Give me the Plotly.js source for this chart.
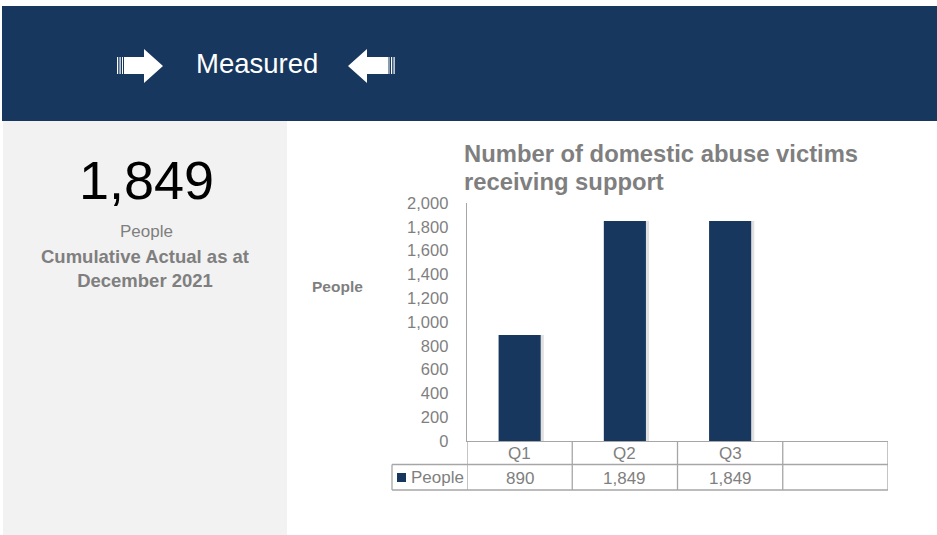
<!DOCTYPE html>
<html>
<head>
<meta charset="utf-8">
<script src="https://cdn.plot.ly/plotly-3.0.1.min.js"></script>
<style>
html,body{margin:0;padding:0;background:#fff;}
#chart{width:937px;height:535px;}
</style>
</head>
<body>
<div id="chart"></div>
<script>
// ---- data ----
const categories = ['Q1', 'Q2', 'Q3'];
const people = [890, 1849, 1849];
const seriesName = 'People';
const yTicks = [0, 200, 400, 600, 800, 1000, 1200, 1400, 1600, 1800, 2000];
const chartTitleLines = ['Number of domestic abuse victims', 'receiving support'];
const headerText = 'Measured';
const kpiUnit = 'People';
const kpiCaption = 'Cumulative Actual as at<br>December 2021';

// ---- layout helpers (pixel -> paper) ----
const W = 937, H = 535;
const L = 467, R = 888, T = 203, B = 441;
const px = x => (x - L) / (R - L);
const py = y => (B - y) / (B - T);
const navy = '#17375E';
const grey = '#7f7f7f';
const border = '#a6a6a6';
const FONT = 'Liberation Sans, Arial, sans-serif';
const nCols = categories.length + 1;
const fmt = v => v.toLocaleString('en-US');

const shapes = [];
const annotations = [];

// header band
shapes.push({type:'rect', xref:'paper', yref:'paper', x0:px(2), x1:px(937), y0:py(121), y1:py(6), fillcolor:navy, line:{width:0}, layer:'below'});
// left grey panel
shapes.push({type:'rect', xref:'paper', yref:'paper', x0:px(3), x1:px(287), y0:py(535), y1:py(121), fillcolor:'#f2f2f2', line:{width:0}, layer:'below'});

// arrows
function pathFrom(pts){ return 'M' + pts.map(p => px(p[0]) + ',' + py(p[1])).join(' L') + ' Z'; }
shapes.push({type:'path', xref:'paper', yref:'paper', path:pathFrom([[124,57],[144,57],[144,49],[163,66],[144,83],[144,74],[124,74]]), fillcolor:'#fff', line:{width:0}});
[[117,118.2],[119.5,120.7],[122,123]].forEach(s => shapes.push({type:'rect', xref:'paper', yref:'paper', x0:px(s[0]), x1:px(s[1]), y0:py(74), y1:py(57), fillcolor:'#fff', line:{width:0}}));
shapes.push({type:'path', xref:'paper', yref:'paper', path:pathFrom([[388,57],[367,57],[367,49],[348,66],[367,83],[367,74],[388,74]]), fillcolor:'#fff', line:{width:0}});
[[388.5,389.5],[391,392.2],[393.5,394.7]].forEach(s => shapes.push({type:'rect', xref:'paper', yref:'paper', x0:px(s[0]), x1:px(s[1]), y0:py(74), y1:py(57), fillcolor:'#fff', line:{width:0}}));

// data table grid
const lineStyle = {color:border, width:1.3};
shapes.push({type:'line', xref:'paper', yref:'paper', x0:px(392), x1:1, y0:py(464.5), y1:py(464.5), line:lineStyle});
shapes.push({type:'line', xref:'paper', yref:'paper', x0:px(392), x1:1, y0:py(490), y1:py(490), line:lineStyle});
shapes.push({type:'line', xref:'paper', yref:'paper', x0:px(392), x1:px(392), y0:py(464.5), y1:py(490), line:lineStyle});
for (let i = 0; i <= nCols; i++) {
  shapes.push({type:'line', xref:'x', yref:'paper', x0:i - 0.5, x1:i - 0.5, y0:0, y1:py(490), line:lineStyle});
}
// legend key in table
shapes.push({type:'rect', xref:'paper', yref:'paper', x0:px(397), x1:px(406), y0:py(482), y1:py(473), fillcolor:navy, line:{width:0}});
annotations.push({xref:'paper', yref:'paper', x:px(409), y:py(477.5), text:seriesName, showarrow:false, xanchor:'left', yanchor:'middle', font:{family:FONT, size:17, color:grey}});

categories.forEach((c, i) => {
  annotations.push({xref:'x', yref:'paper', x:i, y:py(453), text:c, showarrow:false, xanchor:'center', yanchor:'middle', font:{family:FONT, size:17, color:grey}});
  annotations.push({xref:'x', yref:'paper', x:i, y:py(478), text:fmt(people[i]), showarrow:false, xanchor:'center', yanchor:'middle', font:{family:FONT, size:17, color:grey}});
});

// titles & texts
chartTitleLines.forEach((t, k) => {
  annotations.push({xref:'paper', yref:'paper', x:px(462), y:py(153 + 28 * k), text:'<b>' + t + '</b>', showarrow:false, xanchor:'left', yanchor:'middle', align:'left', font:{family:FONT, size:23.8, color:grey}});
});
annotations.push({xref:'paper', yref:'paper', x:px(337.5), y:py(286), text:'<b>' + seriesName + '</b>', showarrow:false, xanchor:'center', yanchor:'middle', font:{family:FONT, size:15.5, color:grey}});
annotations.push({xref:'paper', yref:'paper', x:px(257), y:py(63), text:headerText, showarrow:false, xanchor:'center', yanchor:'middle', font:{family:FONT, size:27.5, color:'#fff'}});
annotations.push({xref:'paper', yref:'paper', x:px(146.5), y:py(180), text:fmt(people[people.length - 1]), showarrow:false, xanchor:'center', yanchor:'middle', font:{family:FONT, size:54, color:'#000'}});
annotations.push({xref:'paper', yref:'paper', x:px(146), y:py(231), text:kpiUnit, showarrow:false, xanchor:'center', yanchor:'middle', font:{family:FONT, size:17, color:grey}});
annotations.push({xref:'paper', yref:'paper', x:px(145), y:py(268.5), text:'<b>' + kpiCaption + '</b>', showarrow:false, xanchor:'center', yanchor:'middle', align:'center', font:{family:FONT, size:18.5, color:grey}});

const xIdx = categories.map((c, i) => i);
const shadow = {
  type:'bar', x:xIdx, y:people, width:0.4, offset:-0.17,
  marker:{color:'rgba(0,0,0,0.12)', line:{width:0}}, hoverinfo:'skip', showlegend:false
};
const bars = {
  type:'bar', x:xIdx, y:people, width:0.4, name:seriesName,
  marker:{color:navy, line:{width:0}}, showlegend:false
};

const layout = {
  width:W, height:H,
  margin:{l:L, r:W - R, t:T, b:H - B, pad:0},
  paper_bgcolor:'#fff', plot_bgcolor:'rgba(0,0,0,0)',
  barmode:'overlay',
  showlegend:false,
  font:{family:FONT, color:grey},
  xaxis:{range:[-0.5, nCols - 0.5], showticklabels:false, showgrid:false, zeroline:false, showline:true, linecolor:border, linewidth:1.3, ticks:'', fixedrange:true},
  yaxis:{range:[0, 2000], tickvals:yTicks, tickformat:',d', showgrid:false, zeroline:false, showline:true, linecolor:border, linewidth:1.3, ticks:'', ticklabelstandoff:14, tickfont:{family:FONT, size:16.5, color:grey}, fixedrange:true},
  shapes:shapes,
  annotations:annotations
};

Plotly.newPlot('chart', [shadow, bars], layout, {displayModeBar:false, staticPlot:true});
</script>
</body>
</html>
